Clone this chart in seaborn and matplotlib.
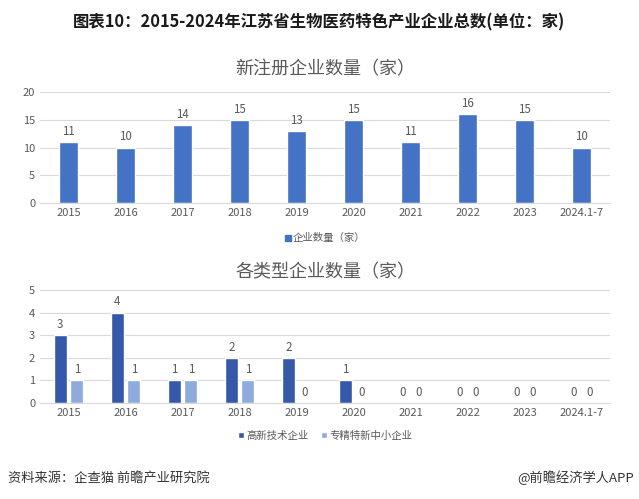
import numpy as np
import pandas as pd
import seaborn as sns
import matplotlib.pyplot as plt
from matplotlib.patches import Patch

# data
years = ["2015", "2016", "2017", "2018", "2019", "2020", "2021", "2022", "2023", "2024.1-7"]
new_reg = [11, 10, 14, 15, 13, 15, 11, 16, 15, 10]
hightech = [3, 4, 1, 2, 2, 1, 0, 0, 0, 0]
specialized = [1, 1, 1, 1, 0, 0, 0, 0, 0, 0]
series_names = ["高新技术企业", "专精特新中小企业"]

sns.set_style("white")
plt.rcParams['font.family'] = ['Noto Sans CJK SC', 'DejaVu Sans']

gray = "#595959"
grid = "#D9D9D9"

fig = plt.figure(figsize=(6.39, 4.99), dpi=100)
ax1 = fig.add_axes([40/639, 1-203/499, 570/639, 111/499])
ax2 = fig.add_axes([40/639, 1-403/499, 570/639, 113/499])

fig.text(0.5, 1-22/499, "图表10：2015-2024年江苏省生物医药特色产业企业总数(单位：家)",
         ha="center", va="center", fontsize=11.8, fontweight="bold", color="#1a1a1a")

# top chart
df1 = pd.DataFrame({"year": years, "n": new_reg})
sns.barplot(data=df1, x="year", y="n", color="#4472C4", width=0.33, ax=ax1, saturation=1)
ax1.bar_label(ax1.containers[0], padding=3, fontsize=8.3, color=gray)
ax1.set_ylim(0, 20)
ax1.set_yticks([0, 5, 10, 15, 20])
ax1.set_title("新注册企业数量（家）", fontsize=13, color=gray, pad=13)
ax1.legend(handles=[Patch(color="#4472C4", label="企业数量（家）")], loc="upper center",
           bbox_to_anchor=(0.5, -0.19), frameon=False, fontsize=7.5, handlelength=0.6,
           handleheight=0.6, handletextpad=0.2, labelcolor=gray)

# bottom chart
df2 = pd.DataFrame({
    "year": years * 2,
    "n": hightech + specialized,
    "kind": [series_names[0]] * len(years) + [series_names[1]] * len(years),
})
sns.barplot(data=df2, x="year", y="n", hue="kind", palette=["#3559A8", "#8FAADC"],
            width=0.58, gap=0.22, ax=ax2, saturation=1)
for c in ax2.containers:
    ax2.bar_label(c, padding=3, fontsize=8.3, color=gray)
ax2.set_ylim(0, 5)
ax2.set_yticks([0, 1, 2, 3, 4, 5])
ax2.set_title("各类型企业数量（家）", fontsize=13, color=gray, pad=9)
ax2.legend(loc="upper center", bbox_to_anchor=(0.5, -0.16), ncol=2, frameon=False,
           fontsize=7.5, handlelength=0.6, handleheight=0.6, handletextpad=0.2,
           columnspacing=1.2, labelcolor=gray, title=None)

for ax in (ax1, ax2):
    ax.set_xlabel("")
    ax.set_ylabel("")
    ax.grid(axis="y", color=grid, linewidth=0.8)
    ax.set_axisbelow(True)
    sns.despine(ax=ax, left=True)
    ax.spines["bottom"].set_color(grid)
    ax.tick_params(axis="both", labelsize=8, colors=gray, length=0)
    ax.set_xlim(-0.5, len(years) - 0.5)

fig.text(8/639, 1-478/499, "资料来源：企查猫 前瞻产业研究院", fontsize=9.5, color="#333333",
         va="center", ha="left")
fig.text(634/639, 1-478/499, "@前瞻经济学人APP", fontsize=9.5, color="#333333",
         va="center", ha="right")

fig.savefig("out.png", dpi=100)
